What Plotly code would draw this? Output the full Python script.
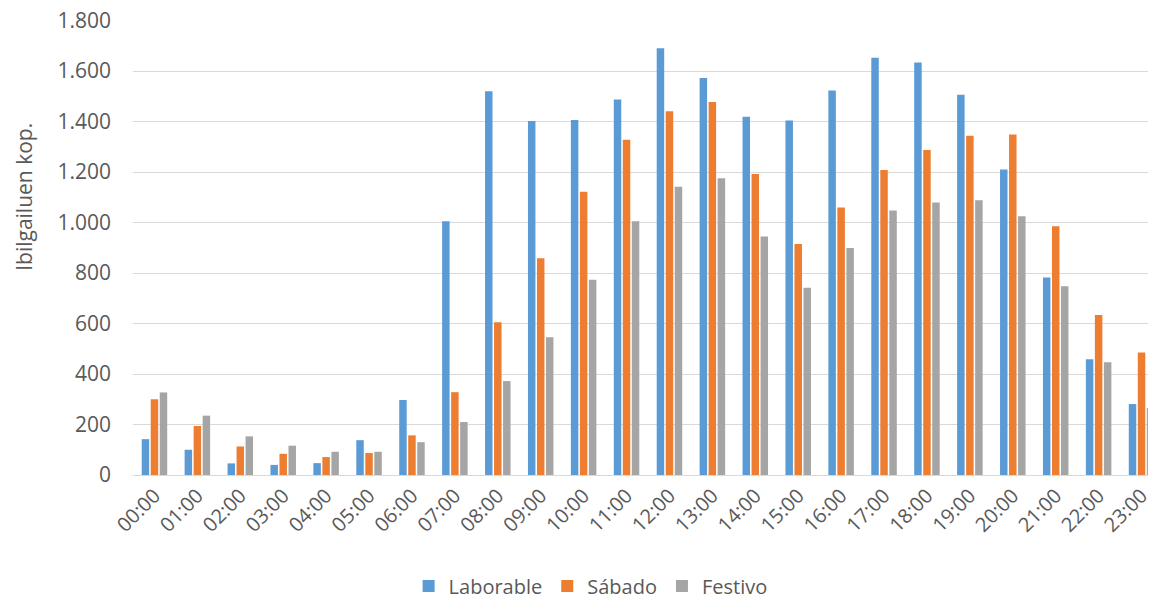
import plotly.graph_objects as go

horas = ['00:00', '01:00', '02:00', '03:00', '04:00', '05:00', '06:00', '07:00',
         '08:00', '09:00', '10:00', '11:00', '12:00', '13:00', '14:00', '15:00',
         '16:00', '17:00', '18:00', '19:00', '20:00', '21:00', '22:00', '23:00']

laborable = [142, 100, 46, 40, 47, 138, 297, 1005, 1520, 1402, 1406, 1487,
             1690, 1572, 1419, 1404, 1523, 1652, 1634, 1506, 1210, 782, 458, 281]
sabado = [300, 194, 113, 84, 71, 87, 157, 328, 605, 858, 1122, 1328,
          1441, 1477, 1192, 915, 1059, 1208, 1287, 1344, 1349, 985, 634, 485]
festivo = [327, 235, 153, 116, 92, 92, 130, 210, 372, 546, 773, 1005,
           1142, 1175, 945, 742, 899, 1048, 1079, 1088, 1025, 748, 447, 265]

y_ticks = [0, 200, 400, 600, 800, 1000, 1200, 1400, 1600, 1800]

fig = go.Figure()
fig.add_trace(go.Bar(x=horas, y=laborable, name='Laborable', marker_color='#5B9BD5'))
fig.add_trace(go.Bar(x=horas, y=sabado, name='Sábado', marker_color='#ED7D31'))
fig.add_trace(go.Bar(x=horas, y=festivo, name='Festivo', marker_color='#A5A5A5'))

fig.update_traces(marker_line_width=0)

# the page body adds an 8px offset, margins compensate for it
fig.update_layout(
    width=1156, height=599,
    barmode='group',
    bargap=0.37,
    bargroupgap=0.17,
    separators=',.',
    plot_bgcolor='white',
    paper_bgcolor='white',
    font=dict(family='Open Sans', size=21, color='#595959'),
    margin=dict(l=125, r=1, t=12, b=132, autoexpand=False),
    legend=dict(orientation='h', x=0.504, xanchor='center', xref='container',
                y=0.035, yanchor='middle', yref='container',
                font=dict(size=20), traceorder='normal'),
    xaxis=dict(tickangle=-45, showgrid=False, showline=True, linecolor='#D9D9D9',
               linewidth=1, ticks='', automargin=False, tickfont=dict(size=20)),
    yaxis=dict(range=[0, 1802], tickvals=y_ticks, tickformat=',', showgrid=True,
               gridcolor='#D9D9D9', gridwidth=1, zeroline=False, ticks='',
               automargin=False, ticklabelstandoff=21, ticklabeloverflow='allow',
               tickfont=dict(size=21)),
    annotations=[dict(text='Ibilgailuen kop.', textangle=-90, showarrow=False,
                      xref='paper', yref='paper', x=-0.106, y=0.611,
                      xanchor='center', yanchor='middle', font=dict(size=21))],
)

fig.write_html('out.html')
